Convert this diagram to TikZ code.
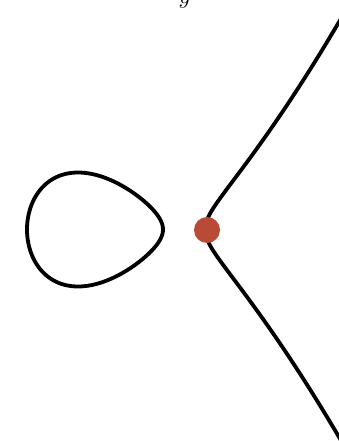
\documentclass[tikz,border=0pt]{standalone}
\usepackage{tikz}
\definecolor{dotred}{RGB}{184,74,54}
\tikzset{curve/.style={line width=3.8pt, line join=round, line cap=round}}
\begin{document}
\begin{tikzpicture}[x=1pt,y=-1pt]
\useasboundingbox (0,0) rectangle (339,441);
\clip (0,0) rectangle (339,441);
\node[anchor=south, inner sep=0pt] (ylab) at (185,8.5) {\fontsize{44}{44}\selectfont $y$};
\draw[curve] plot[domain=0:180, samples=181, smooth]
  ({27+136*sin(\x)^2}, {229.5 - 10.405*sin(\x)*cos(\x)*sqrt(179-136*sin(\x)^2)}) -- cycle;
\draw[curve] plot[domain=-12:12, samples=161, smooth]
  ({205+\x*\x}, {229.5 - 0.0765*\x*sqrt(178+\x*\x)*sqrt(42+\x*\x)});
\fill[dotred] (207,230) circle (13);
\end{tikzpicture}
\end{document}
